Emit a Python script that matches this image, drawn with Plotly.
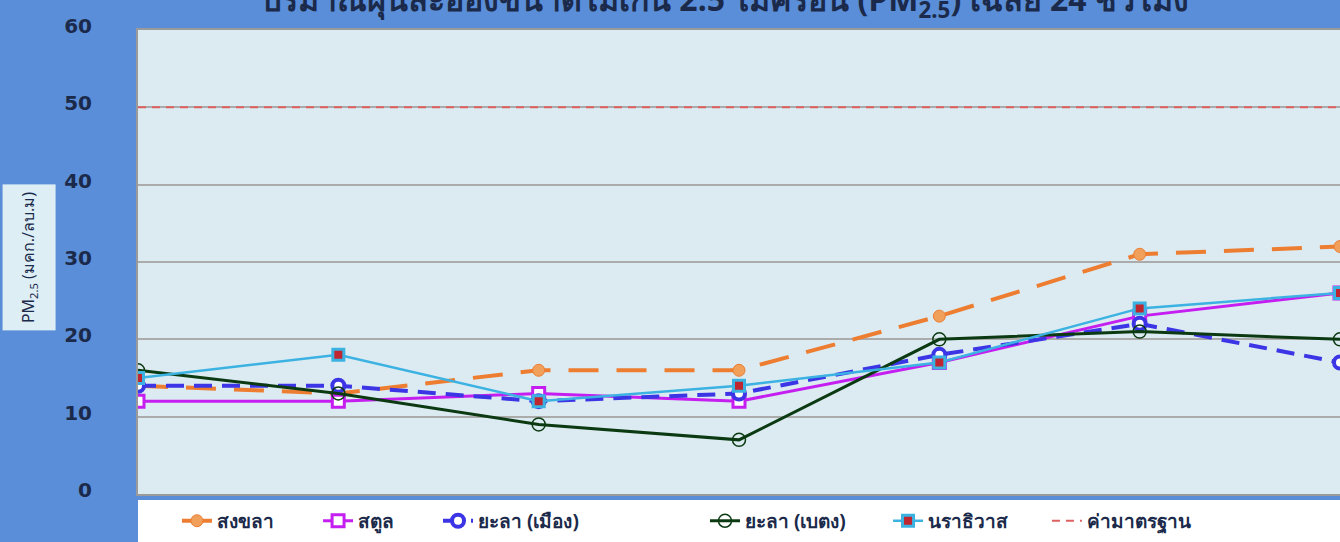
import plotly.graph_objects as go

# ---- data ----
days = ["1", "2", "3", "4", "5", "6", "7"]
songkhla = [14, 13, 16, 16, 23, 31, 32]
satun = [12, 12, 13, 12, 17, 23, 26]
yala_mueang = [14, 14, 12, 13, 18, 22, 17]
yala_betong = [16, 13, 9, 7, 20, 21, 20]
narathiwat = [15, 18, 12, 14, 17, 24, 26]
standard = [50, 50, 50, 50, 50, 50, 50]

names = ["สงขลา", "สตูล", "ยะลา (เมือง)", "ยะลา (เบตง)", "นราธิวาส", "ค่ามาตรฐาน"]

FONT = "DejaVu Sans, Noto Sans, sans-serif"
TXT = "#1B2A4A"

fig = go.Figure()

fig.add_trace(go.Scatter(
    x=days, y=songkhla, name=names[0], mode="lines+markers", legend="legend",
    line=dict(color="#ED7D31", width=4, dash="30px,18px"),
    marker=dict(symbol="circle", size=12, color="#F0A05A", line=dict(color="#ED7D31", width=1)),
))
fig.add_trace(go.Scatter(
    x=days, y=satun, name=names[1], mode="lines+markers", legend="legend2",
    line=dict(color="#C41EF0", width=3),
    marker=dict(symbol="square", size=12, color="white", line=dict(color="#C41EF0", width=3)),
))
fig.add_trace(go.Scatter(
    x=days, y=yala_mueang, name=names[2], mode="lines+markers", legend="legend3",
    line=dict(color="#3B35E6", width=4, dash="18px,10px"),
    marker=dict(symbol="circle", size=12, color="white", line=dict(color="#3B35E6", width=4)),
))
fig.add_trace(go.Scatter(
    x=days, y=yala_betong, name=names[3], mode="lines+markers", legend="legend4",
    line=dict(color="#0B3A12", width=3),
    marker=dict(symbol="circle-open", size=13, color="#0B3A12", line=dict(width=1.5)),
))
fig.add_trace(go.Scatter(
    x=days, y=narathiwat, name=names[4], mode="lines+markers", legend="legend5",
    line=dict(color="#3CB2E2", width=2.5),
    marker=dict(symbol="square", size=11, color="#C0262F", line=dict(color="#3CB2E2", width=3)),
))
fig.add_trace(go.Scatter(
    x=days, y=standard, name=names[5], mode="lines", legend="legend6",
    line=dict(color="#E06060", width=2, dash="8px,6px"),
))

legend_font = dict(size=19, color=TXT, family="Noto Sans, DejaVu Sans, sans-serif", weight="bold")
legend_x = [0.0324, 0.1498, 0.2496, 0.4717, 0.624, 0.7562]
legends = {}
for i, lx in enumerate(legend_x):
    key = "legend" if i == 0 else f"legend{i+1}"
    legends[key] = dict(
        orientation="h", x=lx, xanchor="left", y=-0.058, yanchor="middle",
        bgcolor="rgba(0,0,0,0)", font=legend_font, itemwidth=30,
    )

fig.update_layout(
    width=1340, height=542,
    margin=dict(l=138, r=0, t=30, b=48),
    paper_bgcolor="#5A8ED8",
    plot_bgcolor="#DCEBF1",
    font=dict(family=FONT, color=TXT),
    title=dict(
        text="ปริมาณฝุ่นละอองขนาดไม่เกิน 2.5 ไมครอน (PM<sub>2.5</sub>) เฉลี่ย 24 ชั่วโมง",
        x=0.541, xanchor="center", y=1.0, yanchor="middle", yref="container",
        font=dict(size=32, color=TXT, family="Noto Sans, DejaVu Sans, sans-serif", weight="bold"),
    ),
    xaxis=dict(
        type="category", range=[0, 6], showgrid=False, showticklabels=False,
        zeroline=False, showline=True, linecolor="#9A9A9A", linewidth=2, mirror=True,
        ticks="",
    ),
    yaxis=dict(
        range=[0, 60], dtick=10, showgrid=True, gridcolor="#ABABAB", gridwidth=2,
        zeroline=False, showline=True, linecolor="#9A9A9A", linewidth=2,
        tickfont=dict(size=20, color=TXT, family="DejaVu Sans, sans-serif", weight="bold"),
        ticklabelstandoff=40, ticklabelshift=-4, ticks="",
    ),
    showlegend=True,
    shapes=[
        dict(type="rect", xref="paper", yref="paper", x0=0, x1=1, y0=-0.11, y1=-0.013,
             fillcolor="white", line=dict(width=0), layer="below"),
    ],
    annotations=[
        dict(
            text="PM<sub>2.5</sub> (มคก./ลบ.ม)", xref="paper", yref="paper",
            x=-0.0907, y=0.511, xanchor="center", yanchor="middle",
            textangle=-90, showarrow=False,
            font=dict(size=16, color=TXT, family="Noto Sans, DejaVu Sans, sans-serif"),
            bgcolor="#DDEEF5", width=141, height=48, borderpad=2,
        ),
    ],
    **legends,
)

fig.write_html("out.html", post_script="document.body.style.margin='0';",
               config={"displayModeBar": False})
